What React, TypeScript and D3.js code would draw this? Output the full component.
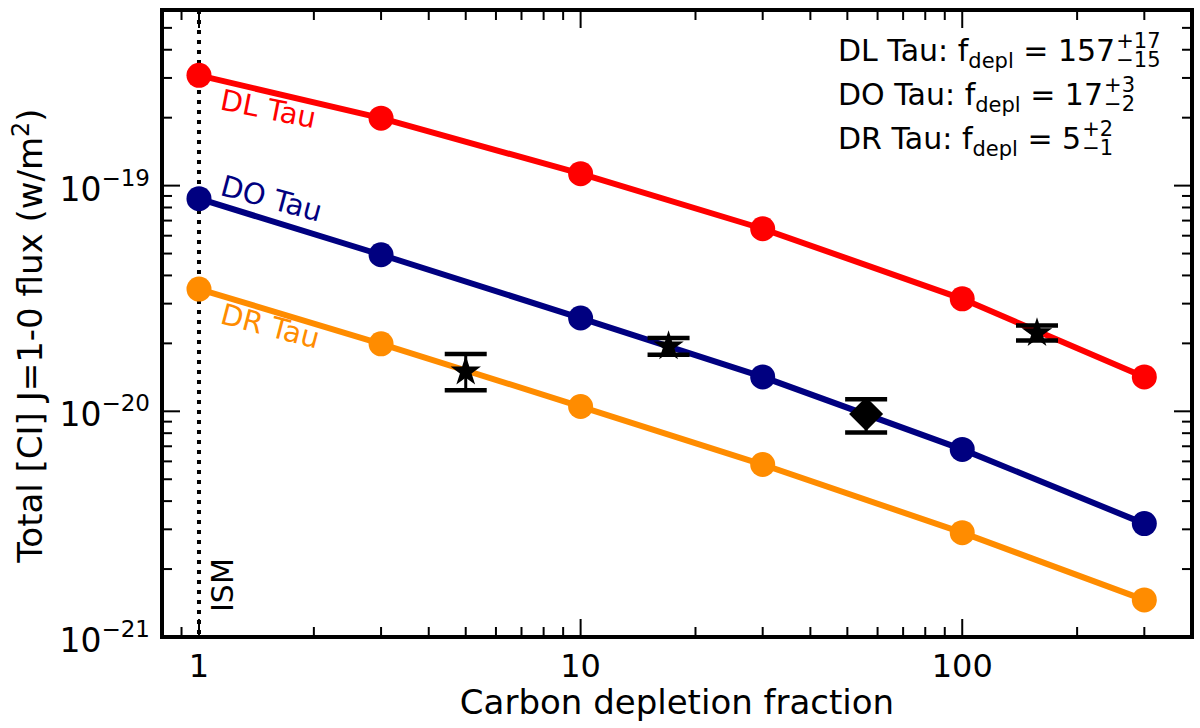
import * as d3 from "d3";
import { useEffect, useRef } from "react";

// model curves: total [CI] flux vs carbon depletion factor
const depletion = [1, 3, 10, 30, 100, 300];
const dlTau = [3.08e-19, 1.99e-19, 1.13e-19, 6.44e-20, 3.15e-20, 1.42e-20];
const doTau = [8.75e-20, 4.94e-20, 2.59e-20, 1.42e-20, 6.78e-21, 3.18e-21];
const drTau = [3.48e-20, 1.99e-20, 1.05e-20, 5.81e-21, 2.9e-21, 1.46e-21];

const seriesNames = ["DL Tau", "DO Tau", "DR Tau"];
const seriesColors = ["#ff0000", "#000080", "#ff8c00"];

// measured fluxes placed at best-fit depletion
const obsX = [5, 17, 56, 157];
const obsY = [1.5e-20, 1.94e-20, 9.72e-21, 2.22e-20];
const obsLo = [1.24e-20, 1.78e-20, 8.05e-21, 2.06e-20];
const obsHi = [1.795e-20, 2.11e-20, 1.13e-20, 2.4e-20];
const obsMarker = ["star", "star", "diamond", "star"];

const fitLines = [
  { name: "DL Tau", val: "157", up: "+17", dn: "\u221215" },
  { name: "DO Tau", val: "17", up: "+3", dn: "\u22122" },
  { name: "DR Tau", val: "5", up: "+2", dn: "\u22121" },
];

const xTicks = [1, 10, 100];
const yTicks = [1e-21, 1e-20, 1e-19];

const W = 1200;
const H = 728;
const m = { left: 162, right: 8, top: 10, bottom: 91 };
const FONT = "DejaVu Sans, sans-serif";

function starPath(r: number) {
  const pts: [number, number][] = [];
  for (let i = 0; i < 10; i++) {
    const a = (i * Math.PI) / 5 - Math.PI / 2;
    const rr = i % 2 === 0 ? r : r * 0.382;
    pts.push([rr * Math.cos(a), rr * Math.sin(a)]);
  }
  return "M" + pts.map((p) => p.join(",")).join("L") + "Z";
}

export default function App() {
  const svgRef = useRef<SVGSVGElement>(null);

  useEffect(() => {
    const svg = d3.select(svgRef.current);
    svg.selectAll("*").remove();

    const x = d3.scaleLog().domain([0.8, 400]).range([m.left, W - m.right]);
    const y = d3.scaleLog().domain([1e-21, 6e-19]).range([H - m.bottom, m.top]);
    const [x0, x1] = x.range();
    const [y0, y1] = y.range();

    // minor + major ticks, all pointing inward on four sides
    const xMinor = [0.9, 2, 3, 4, 5, 6, 7, 8, 9, 20, 30, 40, 50, 60, 70, 80, 90, 200, 300];
    const yMinor: number[] = [];
    for (const e of [-21, -20, -19]) {
      for (let k = 2; k <= 9; k++) {
        const v = k * Math.pow(10, e);
        if (v < 6e-19) yMinor.push(v);
      }
    }
    const ticks = svg.append("g").attr("stroke", "#000").attr("stroke-width", 2);
    const tk = (vals: number[], len: number) => {
      vals.forEach((v) => {
        const px = x(v);
        ticks.append("line").attr("x1", px).attr("x2", px).attr("y1", y0).attr("y2", y0 - len);
        ticks.append("line").attr("x1", px).attr("x2", px).attr("y1", y1).attr("y2", y1 + len);
      });
    };
    const tky = (vals: number[], len: number) => {
      vals.forEach((v) => {
        const py = y(v);
        ticks.append("line").attr("x1", x0).attr("x2", x0 + len).attr("y1", py).attr("y2", py);
        ticks.append("line").attr("x1", x1).attr("x2", x1 - len).attr("y1", py).attr("y2", py);
      });
    };
    tk(xMinor, 10);
    tk(xTicks, 18);
    tky(yMinor, 10);
    tky(yTicks, 18);

    // ISM reference line
    svg
      .append("line")
      .attr("x1", x(1))
      .attr("x2", x(1))
      .attr("y1", y1)
      .attr("y2", y0)
      .attr("stroke", "#000")
      .attr("stroke-width", 4)
      .attr("stroke-dasharray", "4,6");
    svg
      .append("text")
      .attr("transform", `translate(${x(1) + 34},${y0 - 25}) rotate(-90)`)
      .attr("font-size", 30)
      .attr("font-family", FONT)
      .text("ISM");

    // model curves
    const line = d3
      .line<number>()
      .x((_d, i) => x(depletion[i]))
      .y((d) => y(d));
    [dlTau, doTau, drTau].forEach((vals, si) => {
      const g = svg.append("g");
      g.append("path")
        .attr("d", line(vals))
        .attr("fill", "none")
        .attr("stroke", seriesColors[si])
        .attr("stroke-width", 6);
      g.selectAll("circle")
        .data(vals)
        .enter()
        .append("circle")
        .attr("cx", (_d, i) => x(depletion[i]))
        .attr("cy", (d) => y(d))
        .attr("r", 12.5)
        .attr("fill", seriesColors[si]);

      // label along the first segment
      const ax = x(depletion[0]);
      const ay = y(vals[0]);
      const ang =
        (Math.atan2(y(vals[1]) - ay, x(depletion[1]) - ax) * 180) / Math.PI;
      const off = si === 1 ? -4 : 34;
      svg
        .append("text")
        .attr("transform", `translate(${ax + 20},${ay + off}) rotate(${ang - 2})`)
        .attr("font-size", 29)
        .attr("font-family", FONT)
        .attr("fill", seriesColors[si])
        .text(seriesNames[si]);
    });

    // observations with error bars
    obsX.forEach((ox, i) => {
      const px = x(ox);
      const g = svg.append("g").attr("stroke", "#000");
      g.append("line")
        .attr("x1", px)
        .attr("x2", px)
        .attr("y1", y(obsLo[i]))
        .attr("y2", y(obsHi[i]))
        .attr("stroke-width", 3);
      [obsLo[i], obsHi[i]].forEach((v) =>
        g
          .append("line")
          .attr("x1", px - 21)
          .attr("x2", px + 21)
          .attr("y1", y(v))
          .attr("y2", y(v))
          .attr("stroke-width", 4.5),
      );
      const mk =
        obsMarker[i] === "star"
          ? starPath(16)
          : "M0,-17L17,0L0,17L-17,0Z";
      svg
        .append("path")
        .attr("d", mk)
        .attr("transform", `translate(${px},${y(obsY[i])})`)
        .attr("fill", "#000");
    });

    // frame
    svg
      .append("rect")
      .attr("x", x0)
      .attr("y", y1)
      .attr("width", x1 - x0)
      .attr("height", y0 - y1)
      .attr("fill", "none")
      .attr("stroke", "#000")
      .attr("stroke-width", 4);

    // tick labels
    xTicks.forEach((v) => {
      svg
        .append("text")
        .attr("x", x(v))
        .attr("y", y0 + 40)
        .attr("text-anchor", "middle")
        .attr("font-size", 32)
        .attr("font-family", FONT)
        .text(String(v));
    });
    yTicks.forEach((v) => {
      const t = svg
        .append("text")
        .attr("x", x0 - 12)
        .attr("y", y(v) + 15)
        .attr("text-anchor", "end")
        .attr("font-size", 33)
        .attr("font-family", FONT);
      t.append("tspan").text("10");
      t.append("tspan")
        .attr("font-size", 23)
        .attr("dy", -15)
        .text("\u2212" + String(-Math.round(Math.log10(v))));
    });

    // axis labels
    svg
      .append("text")
      .attr("x", (x0 + x1) / 2)
      .attr("y", H - 14)
      .attr("text-anchor", "middle")
      .attr("font-size", 34)
      .attr("font-family", FONT)
      .text("Carbon depletion fraction");
    const yl = svg
      .append("text")
      .attr("transform", `translate(42,${(y0 + y1) / 2 + 12}) rotate(-90)`)
      .attr("text-anchor", "middle")
      .attr("font-size", 34)
      .attr("font-family", FONT);
    yl.append("tspan").text("Total [CI] J=1-0 flux (w/m");
    yl.append("tspan").attr("font-size", 24).attr("dy", -13).text("2");
    yl.append("tspan").attr("dy", 13).text(")");

    // best-fit depletion annotations
    fitLines.forEach((f, i) => {
      const by = 61 + i * 44;
      const t = svg
        .append("text")
        .attr("x", 838)
        .attr("y", by)
        .attr("font-size", 30)
        .attr("font-family", FONT);
      t.append("tspan").text(`${f.name}: f`);
      t.append("tspan").attr("font-size", 21).attr("dy", 7).text("depl");
      t.append("tspan").attr("dy", -7).text(` = ${f.val}`);
      const end = 838 + (t.node() as SVGTextElement).getComputedTextLength();
      svg
        .append("text")
        .attr("x", end + 1)
        .attr("y", by - 13)
        .attr("font-size", 21)
        .attr("font-family", FONT)
        .text(f.up);
      svg
        .append("text")
        .attr("x", end + 1)
        .attr("y", by + 6)
        .attr("font-size", 21)
        .attr("font-family", FONT)
        .text(f.dn);
    });
  }, []);

  return (
    <div style={{ position: "fixed", left: 0, top: 0, background: "#fff" }}>
      <svg ref={svgRef} width={W} height={H} />
    </div>
  );
}
